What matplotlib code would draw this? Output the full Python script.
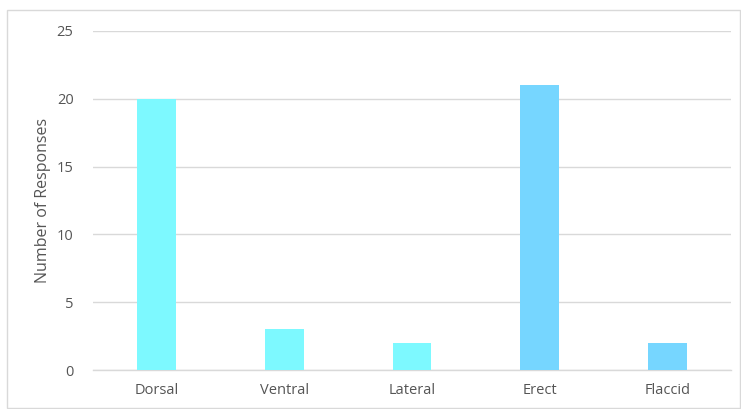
import matplotlib
matplotlib.use("Agg")
import matplotlib.pyplot as plt
from matplotlib.patches import Rectangle

categories = ["Dorsal", "Ventral", "Lateral", "Erect", "Flaccid"]
responses = [20, 3, 2, 21, 2]
bar_colors = ["#7df9ff", "#7df9ff", "#7df9ff", "#76d6ff", "#76d6ff"]
yticks = [0, 5, 10, 15, 20, 25]

plt.rcParams['font.family'] = ['Open Sans', 'DejaVu Sans']

W, H = 741, 409
fig = plt.figure(figsize=(W / 100, H / 100), dpi=100)
fig.patch.set_facecolor("white")

# outer frame
fig.patches.append(Rectangle((7 / W, 1 - 408 / H), (740 - 7) / W, (408 - 10) / H,
                             transform=fig.transFigure, fill=False,
                             edgecolor="#d9d9d9", linewidth=1.0))

ax = fig.add_axes([93 / W, 1 - 370 / H, (731 - 93) / W, (370 - 31) / H])
x = list(range(len(categories)))
ax.bar(x, responses, width=0.305, color=bar_colors, zorder=3)
ax.set_xlim(-0.5, len(categories) - 0.5)
ax.set_ylim(0, 25)
ax.set_yticks(yticks)
ax.set_yticklabels([str(v) for v in yticks])
ax.set_xticks(x)
ax.set_xticklabels(categories)
ax.grid(axis="y", color="#d9d9d9", linewidth=1.0, zorder=0)
for s in ["top", "right", "left"]:
    ax.spines[s].set_visible(False)
ax.spines["bottom"].set_color("#d9d9d9")
ax.spines["bottom"].set_linewidth(1.0)
ax.tick_params(axis="both", length=0, labelsize=10.5, labelcolor="#555555")
ax.tick_params(axis="y", pad=14)
ax.tick_params(axis="x", pad=9)
ax.set_ylabel("Number of Responses", fontsize=11.5, color="#555555", labelpad=4)

fig.savefig("out.png", dpi=100, facecolor="white")
